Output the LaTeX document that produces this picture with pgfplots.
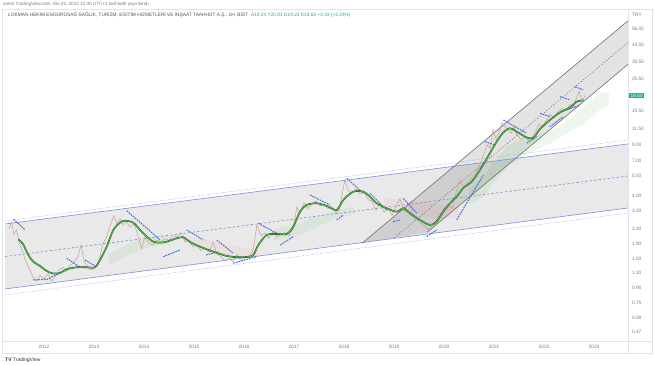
\documentclass[border=0pt]{standalone}
\usepackage{fontspec}
\setmainfont{Liberation Sans}
\usepackage{pgfplots}
\usepackage{pgfplotstable}
\pgfplotsset{compat=1.18}
\definecolor{tvtext}{HTML}{787B86}
\definecolor{tvtitle}{HTML}{50535E}
\definecolor{tvteal}{HTML}{22AB94}
\definecolor{tvframe}{HTML}{E0E3EB}
\definecolor{chline}{HTML}{7B8FD8}
\definecolor{chdot}{HTML}{AAB9EE}
\definecolor{sar}{HTML}{4A6FE0}
\definecolor{maG}{HTML}{43C443}
\definecolor{maD}{HTML}{2F4A22}
\definecolor{candle}{HTML}{C99A9A}
\definecolor{steep}{HTML}{707070}

\pgfplotstableread{
date price
2011.486 2.030
2011.58 1.885
2011.686 1.584
2011.786 1.426
2011.92 1.332
2012.054 1.231
2012.186 1.183
2012.32 1.193
2012.454 1.265
2012.654 1.305
2012.854 1.305
2013.02 1.305
2013.12 1.464
2013.254 1.806
2013.386 2.351
2013.52 2.637
2013.62 2.722
2013.786 2.637
2013.92 2.351
2014.054 2.115
2014.186 1.954
2014.32 1.924
2014.454 1.954
2014.654 2.062
2014.786 2.095
2014.92 1.945
2015.12 1.806
2015.386 1.669
2015.654 1.560
2015.786 1.535
2016.054 1.535
2016.186 1.584
2016.286 1.855
2016.454 2.172
2016.654 2.207
2016.854 2.207
2016.986 2.476
2017.12 3.137
2017.254 3.487
2017.454 3.582
2017.654 3.432
2017.854 3.222
2017.986 3.773
2018.186 4.301
2018.386 4.301
2018.52 3.975
2018.654 3.582
2018.854 3.310
2019.054 3.137
2019.186 3.310
2019.32 3.059
2019.52 2.752
2019.72 2.543
2019.854 2.679
2019.986 3.137
2020.12 3.582
2020.254 3.975
2020.386 4.560
2020.554 5.036
2020.72 6.056
2020.92 7.920
2021.054 9.465
2021.186 10.94
2021.32 11.69
2021.454 11.08
2021.654 10.11
2021.786 10.03
2021.92 11.56
2022.12 13.33
2022.32 15.00
2022.52 16.23
2022.654 17.79
2022.786 18.13
}\matable

\pgfplotstableread{
date price
2011.30 2.40
2011.35 2.65
2011.40 2.20
2011.45 2.35
2011.50 1.95
2011.55 1.75
2011.60 1.55
2011.65 1.40
2011.72 1.25
2011.78 1.12
2011.85 1.05
2011.92 1.15
2012.00 1.08
2012.08 1.18
2012.15 1.05
2012.22 1.12
2012.30 1.25
2012.38 1.30
2012.45 1.22
2012.52 1.35
2012.60 1.40
2012.68 1.55
2012.74 1.85
2012.80 1.45
2012.88 1.30
2012.95 1.25
2013.02 1.30
2013.10 1.45
2013.18 1.90
2013.25 2.10
2013.32 2.50
2013.40 2.95
2013.46 2.60
2013.52 2.80
2013.58 2.55
2013.65 2.70
2013.72 2.45
2013.80 2.60
2013.88 2.15
2013.95 1.75
2014.02 2.10
2014.10 1.90
2014.18 1.85
2014.26 2.00
2014.34 1.95
2014.42 2.05
2014.50 2.00
2014.58 2.15
2014.66 2.10
2014.74 2.25
2014.82 1.95
2014.90 2.00
2014.98 1.80
2015.06 1.85
2015.14 1.70
2015.22 1.75
2015.30 1.65
2015.38 1.95
2015.46 1.60
2015.54 1.55
2015.62 1.45
2015.70 1.50
2015.78 1.42
2015.86 1.60
2015.94 1.45
2016.02 1.50
2016.10 1.55
2016.18 1.70
2016.26 2.55
2016.34 2.15
2016.42 2.25
2016.50 2.05
2016.58 2.30
2016.66 2.10
2016.74 2.20
2016.82 2.25
2016.90 2.15
2016.98 2.40
2017.06 3.40
2017.12 3.00
2017.20 3.60
2017.28 3.30
2017.36 3.55
2017.44 3.70
2017.52 3.45
2017.60 3.50
2017.68 3.30
2017.76 3.40
2017.84 3.05
2017.90 3.20
2017.96 4.10
2018.02 5.20
2018.08 4.40
2018.16 4.20
2018.24 4.50
2018.32 4.15
2018.40 4.30
2018.48 3.80
2018.56 3.70
2018.64 3.20
2018.72 3.60
2018.80 3.10
2018.88 3.30
2018.96 2.95
2019.04 3.40
2019.12 3.85
2019.20 3.20
2019.28 3.10
2019.36 2.90
2019.44 2.80
2019.52 2.65
2019.60 2.55
2019.68 2.35
2019.76 2.50
2019.84 2.75
2019.92 3.00
2020.00 3.30
2020.08 3.50
2020.16 3.30
2020.24 4.20
2020.32 5.20
2020.40 4.60
2020.48 5.00
2020.56 5.40
2020.64 5.80
2020.72 6.60
2020.80 7.80
2020.86 9.00
2020.92 8.50
2020.98 11.50
2021.04 9.80
2021.10 11.00
2021.16 12.80
2021.22 12.00
2021.28 11.50
2021.34 10.80
2021.40 12.00
2021.46 10.50
2021.54 9.80
2021.62 10.30
2021.70 9.50
2021.78 10.40
2021.84 11.20
2021.90 12.50
2021.96 11.80
2022.04 13.20
2022.12 14.50
2022.20 13.80
2022.28 15.20
2022.36 16.00
2022.44 15.50
2022.52 17.00
2022.58 16.40
2022.64 18.50
2022.70 21.00
2022.74 19.00
2022.78 18.20
2022.82 19.60
}\pricetable

\begin{document}
\begin{tikzpicture}
\path[use as bounding box] (0,0) rectangle (654pt,366pt);
\fill[white] (0,0) rectangle (654pt,366pt);
\begin{axis}[
  at={(5pt,25pt)}, anchor=south west, scale only axis,
  width=623pt, height=332pt,
  xmin=2011.22, xmax=2023.68, ymin=0.408, ymax=76.7, ymode=log,
  axis line style={draw=none}, major tick length=0pt, minor tick length=0pt,
  xtick={2012,2013,2014,2015,2016,2017,2018,2019,2020,2021,2022,2023},
  xticklabels={2012,2013,2014,2015,2016,2017,2018,2019,2020,2021,2022,2023},
  ytick={0.47,0.59,0.75,0.95,1.2,1.5,1.9,2.4,3.2,4,5.5,7,9,11.5,15.5,25.5,33.5,43.5,56},
  yticklabels={0.47,0.59,0.75,0.95,1.20,1.50,1.90,2.40,3.20,4.00,5.50,7.00,9.00,11.50,15.50,25.50,33.50,43.50,56.00},
  yticklabel pos=right,
  tick label style={font=\fontsize{4.8}{5}\selectfont, text=tvtext},
  yticklabel style={anchor=west, xshift=0.5pt},
  xticklabel style={yshift=-1pt},
  clip=true,
]
% --- wide regression channel
\addplot[draw=none, fill=black, fill opacity=0.085] coordinates {(2011.22,2.584) (2023.68,9.128) (2023.68,3.326) (2011.22,0.9267)} -- cycle;
% --- steep parallel channel
\addplot[draw=none, fill=black, fill opacity=0.11] coordinates {(2018.36,1.906) (2023.68,63.66) (2023.68,32.04) (2019.66,2.260)} -- cycle;
% --- cloud (faint)
\addplot[draw=none, fill=green!60!black, fill opacity=0.07] coordinates {(2020.5,4.5) (2020.8,5.5) (2021.0,7.0) (2021.3,9.0) (2021.6,10.0) (2021.9,10.5) (2022.2,11.5) (2022.5,13.5) (2022.8,16.5) (2023.1,20.5) (2023.3,20.5) (2023.3,17.0) (2023.1,15.5) (2022.8,12.5) (2022.5,11.0) (2022.2,9.5) (2021.9,8.5) (2021.6,7.5) (2021.3,6.5) (2021.0,5.0) (2020.8,4.0) (2020.5,3.5)} -- cycle;
\addplot[draw=none, fill=red!70, fill opacity=0.06] coordinates {(2014.9,2.1) (2015.3,2.0) (2015.7,1.85) (2016.1,1.75) (2016.3,1.7) (2016.3,1.55) (2016.1,1.5) (2015.7,1.55) (2015.3,1.7) (2014.9,1.85)} -- cycle;
\addplot[draw=none, fill=red!70, fill opacity=0.07] coordinates {(2018.8,3.9) (2019.2,3.8) (2019.6,3.6) (2020.0,3.5) (2020.3,3.4) (2020.3,2.9) (2020.0,2.8) (2019.6,2.9) (2019.2,3.1) (2018.8,3.3)} -- cycle;
\addplot[draw=none, fill=green!60!black, fill opacity=0.06] coordinates {(2016.6,2.4) (2017.0,2.5) (2017.4,2.9) (2017.8,3.2) (2018.2,3.4) (2018.2,3.0) (2017.8,2.8) (2017.4,2.4) (2017.0,2.1) (2016.6,2.0)} -- cycle;
\addplot[draw=none, fill=green!60!black, fill opacity=0.06] coordinates {(2013.3,1.6) (2013.7,1.9) (2014.1,2.1) (2014.5,2.2) (2014.5,1.9) (2014.1,1.8) (2013.7,1.6) (2013.3,1.35)} -- cycle;
% channel lines
\addplot[chline, line width=0.6pt] coordinates {(2011.22,2.584) (2023.68,9.128)};
\addplot[chline, line width=0.6pt] coordinates {(2011.22,0.9267) (2023.68,3.326)};
\addplot[chline, line width=0.6pt, dash pattern=on 2.5pt off 2pt] coordinates {(2011.22,1.547) (2023.68,5.510)};
\addplot[chdot, line width=0.5pt, dash pattern=on 1.5pt off 1.5pt] coordinates {(2011.22,2.709) (2023.68,9.722)};
\addplot[chdot, line width=0.5pt, dash pattern=on 1.5pt off 1.5pt] coordinates {(2011.22,0.843) (2023.68,3.073)};
\addplot[steep, line width=0.6pt] coordinates {(2018.36,1.906) (2023.68,63.66)};
\addplot[steep, line width=0.6pt] coordinates {(2019.66,2.260) (2023.68,32.04)};
\addplot[steep, line width=0.7pt, dash pattern=on 1pt off 2pt] coordinates {(2019.01,2.075) (2023.68,45.16)};
% price
\addplot[candle, line width=0.55pt, opacity=0.9] table[x=date,y=price] {\pricetable};
% parabolic SAR
\pgfplotsset{sarstyle/.style={sar, line width=1pt, dash pattern=on 1.8pt off 0.9pt}}
\addplot[sarstyle] coordinates {(2011.386,2.783) (2011.5,2.584) (2011.62,2.351)};
\addplot[sarstyle] coordinates {(2011.78,1.068) (2012.06,1.079) (2012.36,1.211)};
\addplot[sarstyle] coordinates {(2012.454,1.504) (2012.72,1.305)};
\addplot[sarstyle] coordinates {(2012.82,1.464) (2013.02,1.332)};
\addplot[sarstyle] coordinates {(2013.654,3.188) (2013.98,2.543) (2014.32,2.008)};
\addplot[sarstyle] coordinates {(2014.38,1.542) (2014.72,1.715)};
\addplot[sarstyle] coordinates {(2014.854,2.351) (2015.186,2.008)};
\addplot[sarstyle] coordinates {(2015.24,1.584) (2015.48,1.661)};
\addplot[sarstyle] coordinates {(2015.454,2.008) (2015.786,1.627)};
\addplot[sarstyle] coordinates {(2015.786,1.390) (2016.254,1.542)};
\addplot[sarstyle] coordinates {(2016.286,2.613) (2016.654,2.232)};
\addplot[sarstyle] coordinates {(2016.72,1.855) (2016.986,2.115)};
\addplot[sarstyle] coordinates {(2017.32,4.082) (2017.72,3.487)};
\addplot[sarstyle] coordinates {(2017.854,2.752) (2017.986,2.979)};
\addplot[sarstyle] coordinates {(2018.054,5.316) (2018.386,4.194)};
\addplot[sarstyle] coordinates {(2018.52,4.194) (2018.854,3.222)};
\addplot[sarstyle] coordinates {(2018.98,2.679) (2019.12,2.752)};
\addplot[sarstyle] coordinates {(2019.186,3.875) (2019.454,3.059)};
\addplot[sarstyle] coordinates {(2019.654,2.115) (2019.854,2.351)};
\addplot[sarstyle] coordinates {(2020.254,2.752) (2020.786,5.598)};
\addplot[sarstyle] coordinates {(2020.82,9.465) (2021.02,8.983)};
\addplot[sarstyle] coordinates {(2021.186,13.33) (2021.654,10.81)};
\addplot[sarstyle] coordinates {(2021.654,9.228) (2021.854,10.24)};
\addplot[sarstyle] coordinates {(2021.92,14.81) (2022.12,14.04)};
\addplot[sarstyle] coordinates {(2022.12,11.99) (2022.386,14.04)};
\addplot[sarstyle] coordinates {(2022.32,19.25) (2022.52,18.27)};
\addplot[sarstyle] coordinates {(2022.62,22.53) (2022.786,21.39)};
\addplot[sarstyle] coordinates {(2022.454,15.61) (2022.72,16.89)};
% moving average
\addplot[maD, line width=1.6pt, smooth, tension=0.5] table[x=date,y=price] {\matable};
\addplot[maG, line width=0.85pt, smooth, tension=0.5] table[x=date,y=price] {\matable};
\end{axis}
% frame
\draw[tvframe, line width=0.5pt] (2pt,13pt) rectangle (652pt,357pt);
\draw[tvframe, line width=0.5pt] (2pt,25pt) -- (652pt,25pt);
\draw[tvframe, line width=0.5pt] (628pt,13pt) -- (628pt,357pt);
% header texts
\node[anchor=west, inner sep=0pt, text=tvtext, font=\fontsize{4.6}{5}\selectfont] at (3pt,361.5pt) {asmn TradingView.com, Eki 25, 2022 12:30 UTC+3 tarihinde yayınlandı};
\node[anchor=west, inner sep=0pt, font=\fontsize{4.8}{5}\selectfont] at (8pt,351pt) {\textcolor{tvtitle}{LOKMAN HEKİM ENGÜRÜSAĞ SAĞLIK, TURİZM, EĞİTİM HİZMETLERİ VE İNŞAAT TAAHHÜT A.Ş., 1H, BIST}\hspace{3pt}\textcolor{tvtext}{A}\textcolor{tvteal}{19.24} \textcolor{tvtext}{Y}\textcolor{tvteal}{20.84} \textcolor{tvtext}{D}\textcolor{tvteal}{19.23} \textcolor{tvtext}{K}\textcolor{tvteal}{19.60 +0.43 (+2.24\%)}};
\node[anchor=west, inner sep=0pt, text=tvtext, font=\fontsize{4.8}{5}\selectfont] at (632pt,351pt) {TRY};
\node[anchor=west, fill=tvteal, text=white, inner xsep=1.5pt, inner ysep=1.2pt, font=\fontsize{4.8}{5}\selectfont] at (629pt,270.5pt) {19.60};
\node[anchor=west, inner sep=0pt, text=black!80, font=\fontsize{5}{6}\selectfont] at (5pt,5.5pt) {\textbf{TV} TradingView};
\end{tikzpicture}
\end{document}
